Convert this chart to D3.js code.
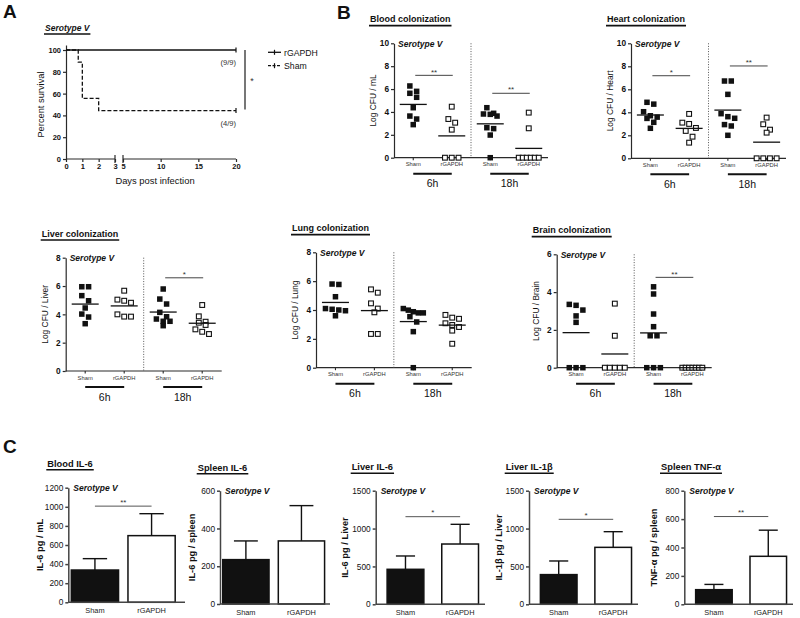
<!DOCTYPE html>
<html><head><meta charset="utf-8">
<script src="https://cdn.jsdelivr.net/npm/d3@7"></script>
<style>body{margin:0;background:#fff} svg{display:block}</style>
</head><body><svg id="c" width="800" height="618"></svg>
<script>
// ---------------- DATA ----------------
// Panel A: survival
const percentTicks = [0, 20, 40, 60, 80, 100];
const dayTicks = [0, 1, 2, 3, 5, 10, 15, 20];
const rgapdhDays = [0, 20];
const rgapdhPct = [100, 100];
const shamDays = [0, 0.75, 1, 2, 20];
const shamPct = [100, 88.9, 55.6, 44.4, 44.4];
const survivalLegend = ["rGAPDH", "Sham"];
const survivalCounts = ["(9/9)", "(4/9)"];

// Panel B: colonization (Log CFU)
const groupNames = ["Sham", "rGAPDH"];
const timeNames = ["6h", "18h"];
const ticks10 = [0, 2, 4, 6, 8, 10];
const ticks8 = [0, 2, 4, 6, 8];
const ticks6 = [0, 2, 4, 6];

const bloodSham6h = [6.27, 5.8, 5.63, 5.28, 4.37, 3.64, 3.38, 2.89];
const bloodRgapdh6h = [4.46, 3.38, 3.06, 2.45, 0, 0, 0];
const bloodSham18h = [4.37, 3.88, 3.82, 3.79, 3.64, 2.62, 2.54, 1.98, 0];
const bloodRgapdh18h = [3.94, 2.57, 0, 0, 0, 0, 0, 0];

const heartSham6h = [4.87, 4.71, 4.05, 3.7, 3.58, 3.47, 3.13, 2.61];
const heartRgapdh6h = [3.86, 3.1, 2.99, 2.64, 2.38, 1.88, 1.36];
const heartSham18h = [6.72, 6.72, 5.56, 3.88, 3.62, 3.48, 2.93, 2.81, 2.0];
const heartRgapdh18h = [3.54, 2.96, 2.49, 2.23, 0, 0, 0, 0];

const liverSham6h = [5.95, 5.95, 5.32, 4.96, 4.45, 4.02, 3.81, 3.34];
const liverRgapdh6h = [5.67, 5.04, 4.96, 4.82, 4.0, 3.84, 3.84];
const liverSham18h = [5.79, 5.08, 4.73, 4.14, 3.83, 3.67, 3.51, 3.51, 3.2];
const liverRgapdh18h = [4.66, 3.86, 3.48, 3.41, 3.25, 2.94, 2.77, 2.61];

const lungSham6h = [5.8, 5.77, 4.92, 4.1, 4.05, 4.0, 3.95, 3.6];
const lungRgapdh6h = [5.43, 5.2, 4.46, 4.1, 3.84, 2.34, 2.34];
const lungSham18h = [4.1, 3.99, 3.88, 3.8, 3.8, 3.54, 3.17, 2.5, 0];
const lungRgapdh18h = [3.66, 3.47, 3.39, 3.08, 2.96, 2.82, 2.57, 1.66];

const brainSham6h = [3.35, 3.3, 3.05, 2.74, 2.4, 0, 0, 0];
const brainRgapdh6h = [3.39, 1.69, 0, 0, 0, 0, 0];
const brainSham18h = [4.28, 3.9, 2.84, 2.17, 1.69, 1.69, 0, 0, 0];
const brainRgapdh18h = [0, 0, 0, 0, 0, 0, 0];

// Panel C: cytokines (mean, SEM) for [Sham, rGAPDH]
const bloodIL6Mean = [338, 698];   const bloodIL6Sem = [119, 230];
const spleenIL6Mean = [235, 334];  const spleenIL6Sem = [99, 187];
const liverIL6Mean = [462, 796];   const liverIL6Sem = [176, 260];
const liverIL1bMean = [392, 752];  const liverIL1bSem = [180, 207];
const spleenTNFMean = [103, 338];  const spleenTNFSem = [37, 184];
const ticksBloodIL6 = [0, 200, 400, 600, 800, 1000, 1200];
const ticksSpleenIL6 = [0, 200, 400, 600];
const ticksLiver = [0, 500, 1000, 1500];
const ticksTNF = [0, 200, 400, 600, 800];

// ---------------- DRAWING ----------------
const svg = d3.select('#c');
svg.append('rect').attr('width', 800).attr('height', 618).attr('fill', '#fff');
const FONT = '"Liberation Sans", Arial, Helvetica, sans-serif';
const AX = '#2a2a2a';
const fmt = d => String(d);

function txt(g, x, y, s, o = {}) {
  const t = g.append('text').attr('x', x).attr('y', y).text(s)
    .attr('font-family', FONT).attr('font-size', o.size || 9)
    .attr('font-weight', o.weight || 'normal').attr('font-style', o.style || 'normal')
    .attr('text-anchor', o.anchor || 'start').attr('fill', o.fill || '#111');
  if (o.rotate) t.attr('transform', `rotate(-90,${x},${y})`);
  return t;
}
function ylabel(g, cx, cy, s, size, weight) {
  return txt(g, cx + size * 0.35, cy, s, {size, weight, anchor: 'middle', rotate: true});
}
function line(g, x1, y1, x2, y2, stroke, w, dash) {
  const l = g.append('line').attr('x1', x1).attr('y1', y1).attr('x2', x2).attr('y2', y2)
    .attr('stroke', stroke).attr('stroke-width', w);
  if (dash) l.attr('stroke-dasharray', dash);
  return l;
}
function styleAxis(ax, size, weight, sw) {
  ax.attr('font-family', null);
  ax.selectAll('.domain').attr('stroke', AX).attr('stroke-width', sw);
  ax.selectAll('.tick line').attr('stroke', AX).attr('stroke-width', sw);
  ax.selectAll('.tick text').attr('font-family', FONT).attr('font-size', size)
    .attr('font-weight', weight).attr('fill', '#111');
}
function titleU(g, x, y, s, size) {
  const t = txt(g, x, y, s, {size, weight: 'bold'});
  const w = t.node().getComputedTextLength();
  line(g, x - 1, y + 3.3, x + w + 1, y + 3.3, '#111', 1.6);
}

// ----- Panel A -----
(function () {
  const g = svg.append('g');
  txt(g, 3, 18, 'A', {size: 19, weight: 'bold'});
  const t = txt(g, 45, 31, 'Serotype V', {size: 8.5, weight: 'bold', style: 'italic'});
  const tw = t.node().getComputedTextLength();
  line(g, 44, 34, 45 + tw + 1, 34, '#111', 1.6);

  const xA = d3.scaleLinear().domain([0, 3, 5, 20]).range([66, 115, 123, 236]);
  const yA = d3.scaleLinear().domain([0, 104.6]).range([159, 45]);

  const ya = g.append('g').attr('transform', 'translate(66,0)')
    .call(d3.axisLeft(yA).tickValues(percentTicks).tickFormat(fmt).tickSize(3).tickSizeOuter(0).tickPadding(2));
  styleAxis(ya, 7.5, 'bold', 1.2);
  const xa = g.append('g').attr('transform', 'translate(0,159)')
    .call(d3.axisBottom(xA).tickValues(dayTicks).tickFormat(fmt).tickSize(3).tickSizeOuter(0).tickPadding(2));
  styleAxis(xa, 7.5, 'bold', 1.2);
  xa.select('.domain').remove();
  line(g, xA(0), 159, xA(3), 159, AX, 1.2);
  line(g, xA(5), 159, xA(20), 159, AX, 1.2);
  line(g, xA(3), 155, xA(3), 163, AX, 1.2);
  line(g, xA(5), 155, xA(5), 163, AX, 1.2);

  ylabel(g, 41, yA(50), 'Percent survival', 9.3, 'normal');
  txt(g, (xA(0) + xA(20)) / 2 + 4, 184, 'Days post infection', {size: 9.4, anchor: 'middle'});

  const ln = d3.line().x(d => xA(d[0])).y(d => yA(d[1])).curve(d3.curveStepAfter);
  const rg = d3.zip(rgapdhDays, rgapdhPct), sh = d3.zip(shamDays, shamPct);
  g.append('path').attr('d', ln(rg)).attr('fill', 'none').attr('stroke', '#111').attr('stroke-width', 1.3);
  g.append('path').attr('d', ln(sh)).attr('fill', 'none').attr('stroke', '#111').attr('stroke-width', 1.3).attr('stroke-dasharray', '4,2');
  const lr = rg[rg.length - 1], ls = sh[sh.length - 1];
  line(g, xA(lr[0]), yA(lr[1]) - 2.5, xA(lr[0]), yA(lr[1]) + 2.5, '#111', 1.2);
  line(g, xA(ls[0]), yA(ls[1]) - 2.5, xA(ls[0]), yA(ls[1]) + 2.5, '#111', 1.2);

  txt(g, xA(20), yA(rgapdhPct[1]) + 15, survivalCounts[0], {size: 7.6, anchor: 'end', fill: '#333'});
  txt(g, xA(20), yA(ls[1]) + 15, survivalCounts[1], {size: 7.6, anchor: 'end', fill: '#333'});

  // significance bracket
  line(g, 245, yA(100), 245, yA(ls[1]) - 1, '#777', 2);
  txt(g, 252, 84, '*', {size: 9, anchor: 'middle', fill: '#333'});

  // legend
  [[52.3, null], [65.7, '3,1.5']].forEach((d, i) => {
    line(g, 268, d[0], 281, d[0], '#111', 1.3, d[1]);
    line(g, 274.5, d[0] - 2.5, 274.5, d[0] + 2.5, '#111', 1.2);
    txt(g, 284, d[0] + 3.2, survivalLegend[i], {size: 8.7});
  });
})();

// ----- Panel B -----
txt(svg, 337, 19, 'B', {size: 19, weight: 'bold'});

function layoutPoints(values, y, cx) {
  const pts = values.map(v => ({v, y: y(v)})).sort((a, b) => a.y - b.y);
  const rows = [];
  pts.forEach(p => {
    const last = rows[rows.length - 1];
    if (last && p.y - last[0].y < 5.8) last.push(p); else rows.push([p]);
  });
  rows.forEach(r => {
    const n = r.length;
    const sp = n > 1 ? Math.min(6.8, 20 / (n - 1)) : 0;
    r.forEach((p, i) => { p.x = cx + (i - (n - 1) / 2) * sp; });
  });
  return pts;
}

function scatterChart(c) {
  const g = svg.append('g');
  const y = d3.scaleLinear().domain([0, c.yMax]).range([c.bottom, c.top]);
  const cats = ['0', '1', '2', '3'];
  const x = d3.scalePoint().domain(cats).range([c.x0, c.x0 + c.w]).padding(0.5);

  const ya = g.append('g').attr('transform', `translate(${c.x0},0)`)
    .call(d3.axisLeft(y).tickValues(c.ticks).tickFormat(fmt).tickSize(3).tickSizeOuter(0).tickPadding(2));
  styleAxis(ya, 8.3, 'bold', 1.2);
  line(g, c.x0, c.bottom, c.x0 + c.w, c.bottom, AX, 1.2);
  cats.forEach(k => line(g, x(k), c.bottom, x(k), c.bottom + 2.5, AX, 1.1));
  const mid = (x('1') + x('2')) / 2;
  line(g, mid, c.top, mid, c.bottom, '#555', 1, '1,1.6');

  cats.forEach((k, i) => txt(g, x(k), c.bottom + 8.5, groupNames[i % 2], {size: 5.8, anchor: 'middle', fill: '#333'}));
  [0, 1].forEach(t => {
    const a = x(cats[t * 2]), b = x(cats[t * 2 + 1]);
    line(g, a, c.bottom + 16, b, c.bottom + 16, '#111', 2);
    txt(g, (a + b) / 2, c.bottom + 29.5, timeNames[t], {size: 10.5, anchor: 'middle'});
  });

  c.groups.forEach((vals, i) => {
    const cx = x(cats[i]);
    const pts = layoutPoints(vals, y, cx);
    const open = i % 2 === 1;
    pts.forEach(p => {
      if (open) {
        g.append('rect').attr('x', p.x - 2.4).attr('y', p.y - 2.4).attr('width', 4.8).attr('height', 4.8)
          .attr('fill', '#fff').attr('stroke', '#111').attr('stroke-width', 1.1);
      } else {
        g.append('rect').attr('x', p.x - 2.75).attr('y', p.y - 2.75).attr('width', 5.5).attr('height', 5.5)
          .attr('fill', '#111');
      }
    });
    const m = d3.mean(vals);
    line(g, cx - 13.5, y(m), cx + 13.5, y(m), '#111', 1.3);
  });

  c.sig.forEach(s => {
    const a = x(cats[s.t * 2]) + 2, b = x(cats[s.t * 2 + 1]) + 1;
    line(g, a, y(s.v), b, y(s.v), '#444', 1);
    txt(g, (a + b) / 2, y(s.v) - 0.8, s.label, {size: 8, anchor: 'middle', fill: '#333'});
  });

  titleU(g, c.x0 - 24, c.top - 21, c.title, 9);
  txt(g, c.x0 + 4, c.top + 3.5, 'Serotype V', {size: 8.5, weight: 'bold', style: 'italic'});
  ylabel(g, c.x0 - 21, (c.top + c.bottom) / 2, c.ylabel, 8.4, 'normal');
}

scatterChart({x0: 394, top: 43.3, bottom: 157.7, w: 154, yMax: 10, ticks: ticks10,
  title: 'Blood colonization', ylabel: 'Log CFU / mL',
  groups: [bloodSham6h, bloodRgapdh6h, bloodSham18h, bloodRgapdh18h],
  sig: [{t: 0, v: 7.2, label: '**'}, {t: 1, v: 5.63, label: '**'}]});
scatterChart({x0: 631, top: 43.3, bottom: 158.3, w: 155, yMax: 10, ticks: ticks10,
  title: 'Heart colonization', ylabel: 'Log CFU / Heart',
  groups: [heartSham6h, heartRgapdh6h, heartSham18h, heartRgapdh18h],
  sig: [{t: 0, v: 7.18, label: '*'}, {t: 1, v: 8.03, label: '**'}]});
scatterChart({x0: 65.7, top: 257.7, bottom: 371, w: 156, yMax: 8, ticks: ticks8,
  title: 'Liver colonization', ylabel: 'Log CFU / Liver',
  groups: [liverSham6h, liverRgapdh6h, liverSham18h, liverRgapdh18h],
  sig: [{t: 1, v: 6.58, label: '*'}]});
scatterChart({x0: 316, top: 252.3, bottom: 367.7, w: 155.7, yMax: 8, ticks: ticks8,
  title: 'Lung colonization', ylabel: 'Log CFU / Lung',
  groups: [lungSham6h, lungRgapdh6h, lungSham18h, lungRgapdh18h],
  sig: []});
scatterChart({x0: 556.7, top: 254.3, bottom: 367.7, w: 155, yMax: 6, ticks: ticks6,
  title: 'Brain colonization', ylabel: 'Log CFU / Brain',
  groups: [brainSham6h, brainRgapdh6h, brainSham18h, brainRgapdh18h],
  sig: [{t: 1, v: 4.78, label: '**'}]});

// ----- Panel C -----
txt(svg, 3, 453, 'C', {size: 19, weight: 'bold'});

function barChart(c) {
  const g = svg.append('g');
  const y = d3.scaleLinear().domain([0, c.yMax]).range([c.bottom, c.top]);
  const x = d3.scaleBand().domain(groupNames).range([c.x0, c.x1])
    .paddingInner(c.pi).paddingOuter(c.po).align(c.align);
  const bw = x.bandwidth();

  groupNames.forEach((k, i) => {
    const cx = x(k) + bw / 2;
    const top = y(c.mean[i]), et = y(c.mean[i] + c.sem[i]);
    line(g, cx, top, cx, et, '#111', 1.4);
    line(g, cx - bw / 4, et, cx + bw / 4, et, '#111', 1.4);
    g.append('rect').attr('x', x(k) + 0.75).attr('y', top).attr('width', bw - 1.5)
      .attr('height', c.bottom - top)
      .attr('fill', i === 0 ? '#111' : '#fff').attr('stroke', '#111').attr('stroke-width', 1.5);
    txt(g, cx, c.bottom + 10.5, k, {size: 7.4, anchor: 'middle', fill: '#222'});
  });

  const ya = g.append('g').attr('transform', `translate(${c.x0},0)`)
    .call(d3.axisLeft(y).tickValues(c.ticks).tickFormat(fmt).tickSize(3).tickSizeOuter(0).tickPadding(2));
  styleAxis(ya, 8.3, 'normal', 1.5);
  ya.selectAll('.domain, .tick line').attr('stroke', '#444');
  line(g, c.x0, c.bottom, c.x1, c.bottom, '#444', 1.5);

  if (c.sig) {
    const a = x(groupNames[0]) + bw / 2, b = x(groupNames[1]) + bw / 2;
    line(g, a, y(c.sig.v), b, y(c.sig.v), '#555', 1);
    txt(g, (a + b) / 2, y(c.sig.v) - 1.2, c.sig.label, {size: 8, anchor: 'middle', fill: '#333'});
  }
  titleU(g, c.x0 - c.tdx, c.tby, c.title, 9.3);
  txt(g, c.x0 + 5, c.top + 2.8, 'Serotype V', {size: 8.5, weight: 'bold', style: 'italic'});
  ylabel(g, c.x0 - c.ldx, (c.top + c.bottom) / 2, c.ylabel, 9.3, 'bold');
}

barChart({x0: 68.3, x1: 185, top: 487.7, bottom: 602.3, yMax: 1200, ticks: ticksBloodIL6,
  pi: 0.14, po: 0.1, align: 0.2, mean: bloodIL6Mean, sem: bloodIL6Sem,
  title: 'Blood IL-6', tdx: 21, tby: 466.5, ylabel: 'IL-6 pg / mL', ldx: 28.5,
  sig: {v: 1007, label: '**'}});
barChart({x0: 220, x1: 330, top: 490.7, bottom: 604, yMax: 600, ticks: ticksSpleenIL6,
  pi: 0.14, po: 0.06, align: 0.3, mean: spleenIL6Mean, sem: spleenIL6Sem,
  title: 'Spleen IL-6', tdx: 22.3, tby: 470.5, ylabel: 'IL-6 pg / spleen', ldx: 28.5, sig: null});
barChart({x0: 375.7, x1: 485, top: 490.7, bottom: 604.3, yMax: 1500, ticks: ticksLiver,
  pi: 0.3, po: 0.15, align: 0.65, mean: liverIL6Mean, sem: liverIL6Sem,
  title: 'Liver IL-6', tdx: 24, tby: 470, ylabel: 'IL-6 pg / Liver', ldx: 30.7,
  sig: {v: 1157, label: '*'}});
barChart({x0: 529, x1: 638, top: 490.7, bottom: 604.3, yMax: 1500, ticks: ticksLiver,
  pi: 0.3, po: 0.15, align: 0.65, mean: liverIL1bMean, sem: liverIL1bSem,
  title: 'Liver IL-1β', tdx: 23.3, tby: 470, ylabel: 'IL-1β pg / Liver', ldx: 30.7,
  sig: {v: 1122, label: '*'}});
barChart({x0: 684.3, x1: 793, top: 490.7, bottom: 604.3, yMax: 800, ticks: ticksTNF,
  pi: 0.3, po: 0.15, align: 0.65, mean: spleenTNFMean, sem: spleenTNFSem,
  title: 'Spleen TNF-α', tdx: 23.3, tby: 470, ylabel: 'TNF-α pg / spleen', ldx: 31,
  sig: {v: 618, label: '**'}});
</script></body></html>
